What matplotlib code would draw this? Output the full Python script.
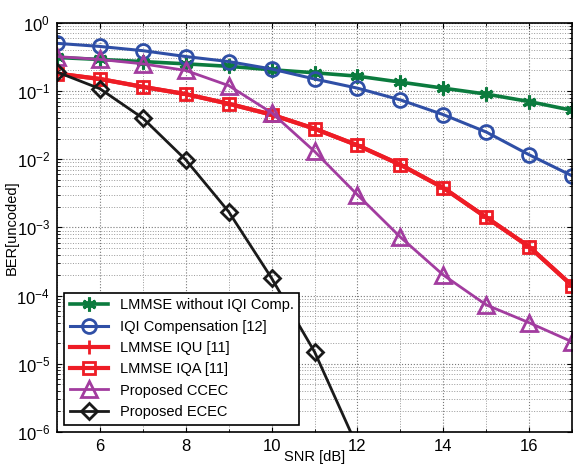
import matplotlib.pyplot as plt
from matplotlib.ticker import LogLocator, NullFormatter, FixedLocator

plt.rcParams['font.family'] = ['Liberation Sans', 'DejaVu Sans']

snr = [5, 6, 7, 8, 9, 10, 11, 12, 13, 14, 15, 16, 17]

ber_no_comp = [0.31, 0.29, 0.27, 0.25, 0.23, 0.205, 0.185, 0.165, 0.135, 0.11, 0.09, 0.07, 0.052]
ber_iqi_comp = [0.5, 0.45, 0.39, 0.32, 0.27, 0.21, 0.15, 0.11, 0.074, 0.045, 0.025, 0.0116, 0.0057]
ber_iqu = [0.18, 0.15, 0.115, 0.09, 0.065, 0.045, 0.028, 0.016, 0.0083, 0.0038, 0.0014, 0.00052, 0.00014]
ber_iqa = [0.18, 0.15, 0.115, 0.09, 0.065, 0.045, 0.028, 0.016, 0.0083, 0.0038, 0.0014, 0.00052, 0.00014]
ber_ccec = [0.32, 0.29, 0.25, 0.2, 0.12, 0.048, 0.013, 0.003, 0.00072, 0.0002, 7.3e-5, 4e-5, 2.1e-5]
snr_ecec = [5, 6, 7, 8, 9, 10, 11, 12]
ber_ecec = [0.19, 0.108, 0.04, 0.0098, 0.0017, 0.00018, 1.5e-5, 6e-7]

y_major = [1e-6, 1e-5, 1e-4, 1e-3, 1e-2, 1e-1, 1]

fig = plt.figure(figsize=(5.75, 4.65), dpi=100)
ax = fig.add_axes([0.099, 0.071, 0.896, 0.880])

# MATLAB-like asterisk marker
ast = (6, 2, 0)

ax.semilogy(snr, ber_no_comp, '-', marker=ast, color='#0b7b3e', lw=2.6, ms=10, mew=2.2,
            label='LMMSE without IQI Comp.')
ax.semilogy(snr, ber_iqi_comp, '-o', color='#2f4fa6', lw=2.2, ms=10, mfc='none', mew=2,
            label='IQI Compensation [12]')
ax.semilogy(snr, ber_iqu, '-+', color='#ee1c25', lw=3, ms=10, mew=2,
            label='LMMSE IQU [11]')
ax.semilogy(snr, ber_iqa, '-s', color='#ee1c25', lw=3, ms=9, mfc='none', mew=2,
            label='LMMSE IQA [11]')
ax.semilogy(snr, ber_ccec, '-^', color='#a23c9f', lw=2, ms=11, mfc='none', mew=2,
            label='Proposed CCEC')
ax.semilogy(snr_ecec, ber_ecec, '-D', color='#1a1a1a', lw=2, ms=8, mfc='none', mew=2,
            label='Proposed ECEC')

ax.set_xlim(5, 17)
ax.set_ylim(1e-6, 1)
ax.set_xticks([6, 8, 10, 12, 14, 16])
ax.yaxis.set_major_locator(FixedLocator(y_major))
ax.yaxis.set_minor_locator(LogLocator(base=10, subs=range(2, 10), numticks=10))
ax.yaxis.set_minor_formatter(NullFormatter())
ax.xaxis.set_minor_locator(plt.MultipleLocator(1))
ax.grid(True, which='major', ls=':', color='#777777', lw=0.8)
ax.grid(True, which='minor', ls=':', color='#999999', lw=0.7)
ax.tick_params(which='both', direction='in', top=True, right=True, labelsize=12, pad=5)

ax.set_xlabel('SNR [dB]', fontsize=10.5, va='top')
ax.xaxis.set_label_coords(0.5, -0.045)
ax.set_ylabel('BER[uncoded]', fontsize=10.5)
ax.yaxis.set_label_coords(-0.075, 0.5)

leg = ax.legend(loc='lower left', fontsize=10.5, frameon=True, fancybox=False,
                edgecolor='black', handlelength=2.6, borderaxespad=0.5,
                labelspacing=0.5, borderpad=0.4, framealpha=1)
leg.get_frame().set_linewidth(1.2)

for s in ax.spines.values():
    s.set_linewidth(1.2)

fig.savefig('out.png', dpi=100)
